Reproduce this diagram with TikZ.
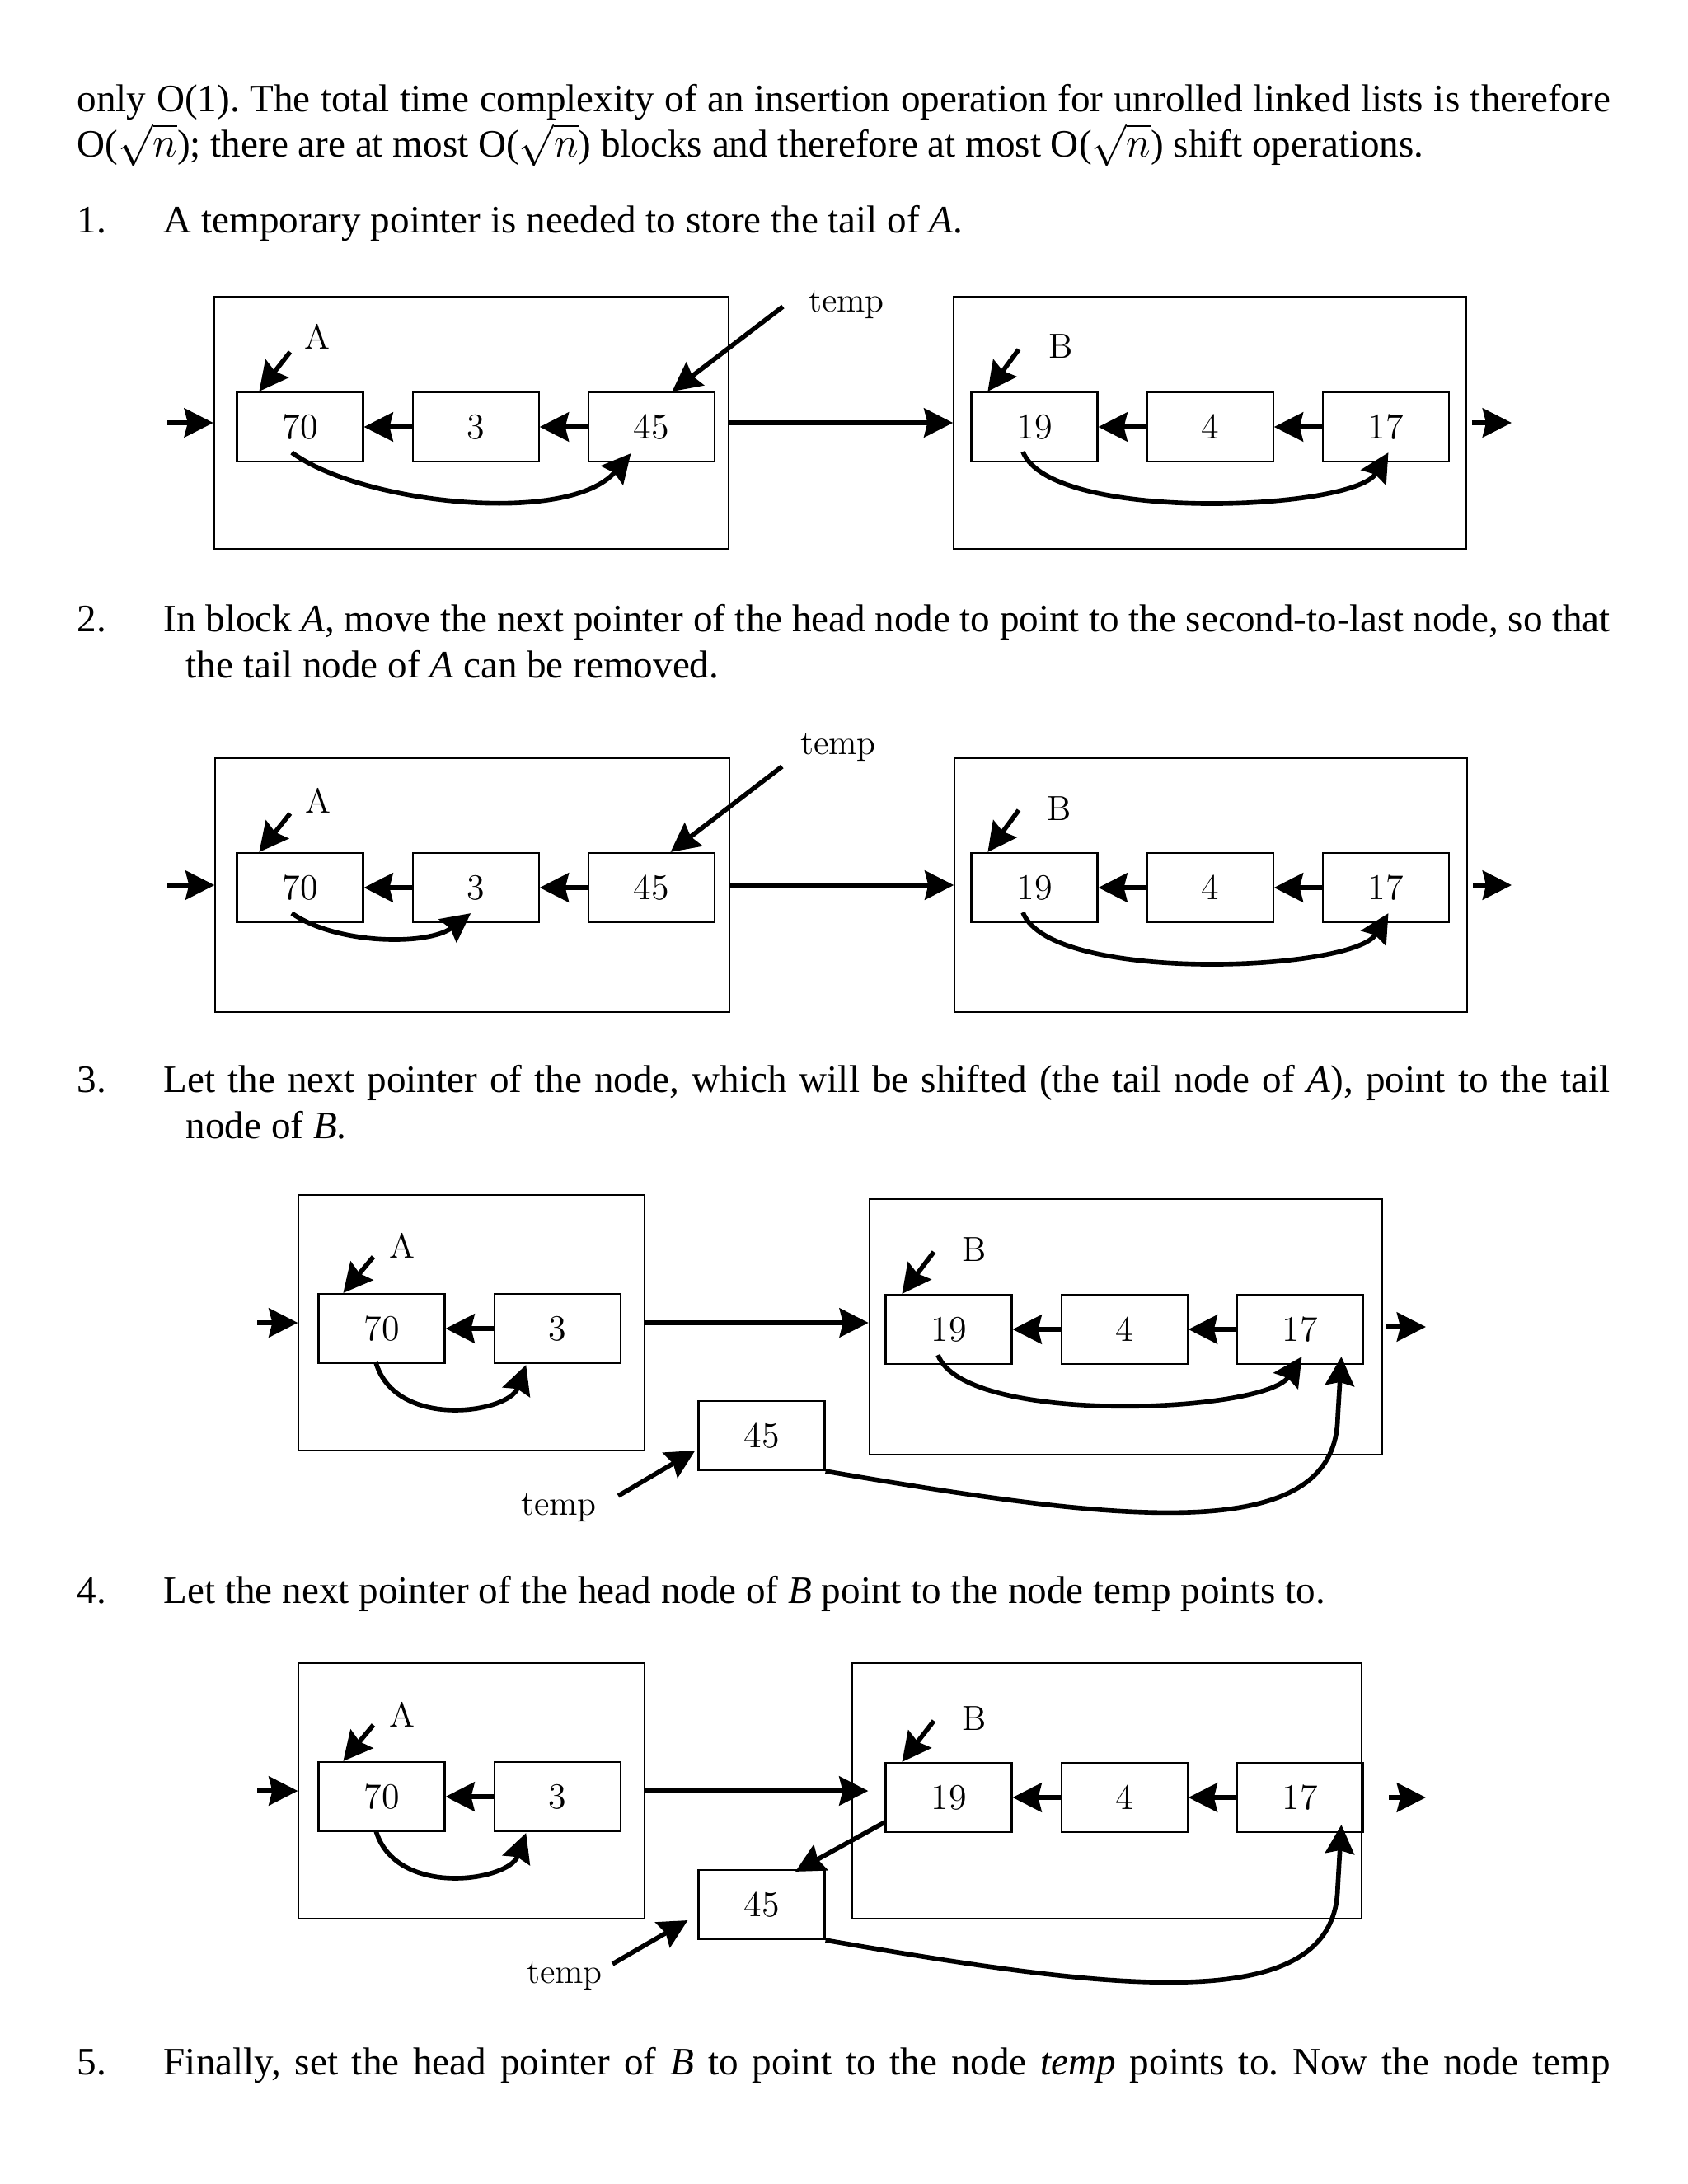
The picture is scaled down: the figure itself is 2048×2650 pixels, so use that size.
\documentclass[tikz,border=0pt]{standalone}
\usepackage{fontspec}
\newfontfamily\bodyfont{Liberation Serif}
\usepackage{tikz}
\usetikzlibrary{arrows.meta}
\usetikzlibrary{positioning,calc}
\frenchspacing

\begin{document}
\begin{tikzpicture}[x=0.01cm,y=-0.01cm,
  >={Stealth[length=10pt,width=10pt,inset=1.2pt]},
  cell node/.style={draw,line width=0.6pt,minimum width=1.53cm,
    minimum height=0.84cm,inner sep=0pt,font=\fontsize{12.5}{12.5}\selectfont},
  block node/.style={draw,line width=0.6pt,inner sep=0pt},
  label node/.style={inner sep=1pt,font=\fontsize{12}{12}\selectfont},
  link/.style={->,line width=1.6pt},
  text line/.style={anchor=base west,inner sep=0pt,
    font=\bodyfont\fontsize{13.4}{16}\selectfont}]

\useasboundingbox (0,0) rectangle (2048,2650);

% text
\node[text line] (top1) at (93,135) {\makebox[18.59cm][s]{only O(1). The total time complexity of an insertion operation for unrolled linked lists is therefore}};
\node[text line] (top2) at (93,190) {O($\sqrt{n}$); there are at most O($\sqrt{n}$) blocks and therefore at most O($\sqrt{n}$) shift operations.};
\node[text line] (num1) at (93,282) {1.};
\node[text line] (step1) at (198,282) {A temporary pointer is needed to store the tail of \textit{A}.};
\node[text line] (num2) at (93,766) {2.};
\node[text line] (step2) at (198,766) {\makebox[17.54cm][s]{In block \textit{A}, move the next pointer of the head node to point to the second-to-last node, so that}};
\node[text line] (step2b) at (225,822) {the tail node of \textit{A} can be removed.};
\node[text line] (num3) at (93,1325) {3.};
\node[text line] (step3) at (198,1325) {\makebox[17.54cm][s]{Let the next pointer of the node, which will be shifted (the tail node of \textit{A}), point to the tail}};
\node[text line] (step3b) at (225,1381) {node of \textit{B}.};
\node[text line] (num4) at (93,1945) {4.};
\node[text line] (step4) at (198,1945) {Let the next pointer of the head node of \textit{B} point to the node temp points to.};
\node[text line] (num5) at (93,2517) {5.};
\node[text line] (step5) at (198,2517) {\makebox[17.54cm][s]{Finally, set the head pointer of \textit{B} to point to the node \textit{temp} points to. Now the node temp}};

% step 1
\begin{scope}[name prefix=d1-]
\node[block node,minimum width=6.24cm,minimum height=3.06cm] (blkA) at (572,513) {};
\node[block node,minimum width=6.21cm,minimum height=3.06cm] (blkB) at (1468,513) {};
\node[cell node] (a70) at (364,518) {70};
\node[cell node,right=0.58cm of a70] (a3) {3};
\node[cell node,right=0.58cm of a3] (a45) {45};
\node[cell node] (b19) at (1255,518) {19};
\node[cell node,right=0.58cm of b19] (b4) {4};
\node[cell node,right=0.58cm of b4] (b17) {17};
\node[label node] (lblA) at (385,408) {A};
\node[label node] (lblB) at (1287,420) {B};
\node[label node] (tmp) at (1027,370) {temp};
\coordinate (entry) at (203,513);
\coordinate (exit) at (1834,513);

\draw[link] (entry) -- (blkA);
\draw[link] (a3) -- (a70);
\draw[link] (a45) -- (a3);
\draw[link] (blkA) -- (blkB);
\draw[link] (b4) -- (b19);
\draw[link] (b17) -- (b4);
\draw[link,shorten <=0.06cm] (blkB) -- (exit);
\draw[link] ($(lblA)+(-33,19)$) -- ($(a70.north west)+(28,0)$);
\draw[link] ($(lblB)+(-51,4)$) -- ($(b19.north west)+(21,0)$);
\draw[link] ($(tmp.west)+(-27,2)$) -- ($(a45.north)+(25,0)$);
\draw[link] ($(a70.south)+(-10,-12)$) .. controls (440,612) and (690,638) .. ($(a45.south)+(-25,-11)$);
\draw[link] ($(b19.south)+(-14,-13)$) .. controls (1275,635) and (1642,620) .. ($(b17.south)+(3,-12)$);
\end{scope}

% step 2
\begin{scope}[name prefix=d2-]
\node[block node,minimum width=6.23cm,minimum height=3.08cm] (blkA) at (573,1074) {};
\node[block node,minimum width=6.21cm,minimum height=3.08cm] (blkB) at (1469,1074) {};
\node[cell node] (a70) at (364,1077) {70};
\node[cell node,right=0.58cm of a70] (a3) {3};
\node[cell node,right=0.58cm of a3] (a45) {45};
\node[cell node] (b19) at (1255,1077) {19};
\node[cell node,right=0.58cm of b19] (b4) {4};
\node[cell node,right=0.58cm of b4] (b17) {17};
\node[label node] (lblA) at (386,971) {A};
\node[label node] (lblB) at (1285,981) {B};
\node[label node] (tmp) at (1017,907) {temp};
\coordinate (entry) at (203,1074);
\coordinate (exit) at (1834,1074);

\draw[link] (entry) -- (blkA);
\draw[link] (a3) -- (a70);
\draw[link] (a45) -- (a3);
\draw[link] (blkA) -- (blkB);
\draw[link] (b4) -- (b19);
\draw[link] (b17) -- (b4);
\draw[link,shorten <=0.06cm] (blkB) -- (exit);
\draw[link] ($(lblA)+(-34,16)$) -- ($(a70.north west)+(28,0)$);
\draw[link] ($(lblB)+(-49,2)$) -- ($(b19.north west)+(21,0)$);
\draw[link] ($(tmp.west)+(-18,23)$) -- ($(a45.north)+(23,0)$);
\draw[link] ($(a70.south)+(-10,-12)$) .. controls (410,1147) and (520,1147) .. ($(a3.south)+(-6,-12)$);
\draw[link] ($(b19.south)+(-14,-13)$) .. controls (1275,1194) and (1642,1179) .. ($(b17.south)+(3,-12)$);
\end{scope}

% step 3
\begin{scope}[name prefix=d3-]
\node[block node,minimum width=4.19cm,minimum height=3.09cm] (blkA) at (572,1605) {};
\node[block node,minimum width=6.22cm,minimum height=3.09cm] (blkB) at (1366,1610) {};
\node[cell node] (a70) at (463,1612) {70};
\node[cell node,right=0.58cm of a70] (a3) {3};
\node[cell node] (b19) at (1151,1613) {19};
\node[cell node,right=0.58cm of b19] (b4) {4};
\node[cell node,right=0.58cm of b4] (b17) {17};
\node[cell node] (t45) at (924,1742) {45};
\node[label node] (lblA) at (488,1511) {A};
\node[label node] (lblB) at (1182,1516) {B};
\node[label node] (tmp) at (678,1830) {temp};
\coordinate (entry) at (312,1605);
\coordinate (exit) at (1730,1610);

\draw[link] (entry) -- (blkA);
\draw[link] (a3) -- (a70);
\draw[link] (blkA) -- (blkA -| blkB.west);
\draw[link] (b4) -- (b19);
\draw[link] (b17) -- (b4);
\draw[link,shorten <=0.04cm] (blkB) -- (exit);
\draw[link] ($(lblA)+(-35,14)$) -- ($(a70.north west)+(31,0)$);
\draw[link] ($(lblB)+(-49,3)$) -- ($(b19.north west)+(21,0)$);
\draw[link] ($(tmp.east)+(22,-15)$) -- ($(t45.west)+(-3,18)$);
\draw[link] ($(a70.south)+(-7,-2)$) .. controls (480,1735) and (617,1715) .. ($(a3.south)+(-38,1)$);
\draw[link] ($(b19.south)+(-13,-12)$) .. controls (1170,1730) and (1534,1715) .. ($(b17.south)+(2,-10)$);
\draw[link] (t45.south east) .. controls (1350,1845) and (1620,1880) .. (1623,1720) -- ($(b17.south)+(50,-10)$);
\end{scope}

% step 4
\begin{scope}[name prefix=d4-]
\node[block node,minimum width=4.19cm,minimum height=3.09cm] (blkA) at (572,2173) {};
\node[block node,minimum width=6.18cm,minimum height=3.09cm] (blkB) at (1343,2173) {};
\node[cell node] (a70) at (463,2180) {70};
\node[cell node,right=0.58cm of a70] (a3) {3};
\node[cell node] (b19) at (1151,2181) {19};
\node[cell node,right=0.58cm of b19] (b4) {4};
\node[cell node,right=0.58cm of b4] (b17) {17};
\node[cell node] (t45) at (924,2311) {45};
\node[label node] (lblA) at (488,2080) {A};
\node[label node] (lblB) at (1182,2085) {B};
\node[label node] (tmp) at (685,2398) {temp};
\coordinate (entry) at (312,2173);
\coordinate (exit) at (1730,2181);

\draw[link] (entry) -- (blkA);
\draw[link] (a3) -- (a70);
\draw[link,shorten >=0.2cm] (blkA) -- (blkA -| b19.west);
\draw[link] (b4) -- (b19);
\draw[link] (b17) -- (b4);
\draw[link,shorten <=0.3cm] (b17) -- (exit);
\draw[link] ($(lblA)+(-35,13)$) -- ($(a70.north west)+(31,0)$);
\draw[link] ($(lblB)+(-49,3)$) -- ($(b19.north west)+(21,0)$);
\draw[link] ($(b19.west)+(0,30)$) -- ($(t45.north)+(41,3)$);
\draw[link] ($(tmp.east)+(8,-15)$) -- ($(t45.west)+(-12,19)$);
\draw[link] ($(a70.south)+(-7,-2)$) .. controls (480,2303) and (617,2283) .. ($(a3.south)+(-38,1)$);
\draw[link] (t45.south east) .. controls (1350,2415) and (1620,2450) .. (1623,2290) -- ($(b17.south)+(50,-10)$);
\end{scope}
\end{tikzpicture}
\end{document}
